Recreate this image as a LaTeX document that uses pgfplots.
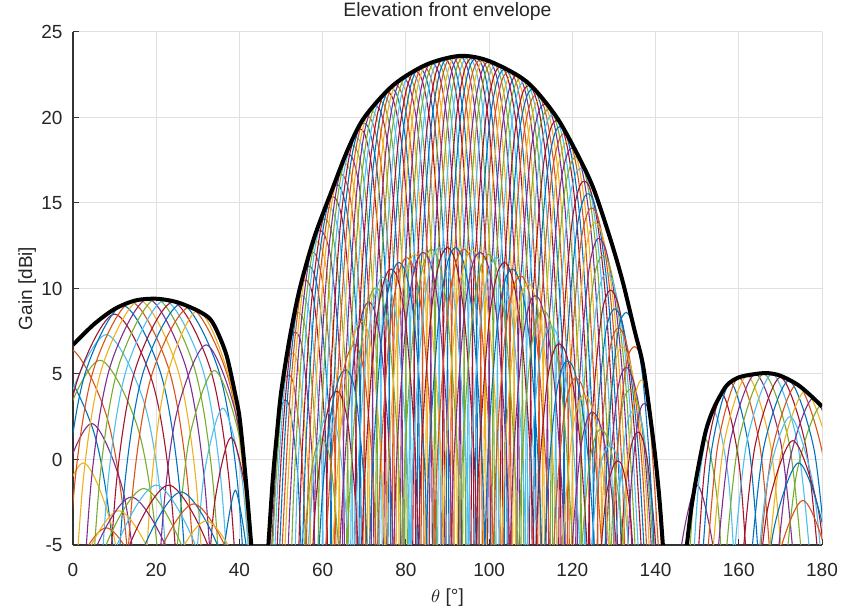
\documentclass[border=0pt]{standalone}
\usepackage{fontspec}
\setmainfont{Liberation Sans}
\usepackage{pgfplots}
\pgfplotsset{compat=1.18}
\definecolor{m1}{RGB}{0,114,189}
\definecolor{m2}{RGB}{217,83,25}
\definecolor{m3}{RGB}{237,177,32}
\definecolor{m4}{RGB}{126,47,142}
\definecolor{m5}{RGB}{119,172,48}
\definecolor{m6}{RGB}{77,190,238}
\definecolor{m7}{RGB}{162,20,47}
\begin{document}
\begin{tikzpicture}
\begin{axis}[
  scale only axis, width=374.5pt, height=256.5pt,
  xmin=0, xmax=180, ymin=-5, ymax=25,
  xtick={0,20,...,180}, ytick={-5,0,...,25},
  grid=major, major grid style={black!12, line width=0.5pt},
  axis x line*=bottom, axis y line*=left,
  axis line style={black!80, line width=0.6pt},
  tick align=inside, major tick length=3pt, tick style={black!80, line width=0.5pt},
  ticklabel style={font=\fontsize{9.5}{11}\selectfont, text=black!85},
  /pgf/number format/assume math mode=true,
  xticklabel style={yshift=-5.5pt},
  yticklabel style={xshift=-1.7pt},
  xlabel={$\theta$ [°]}, ylabel={Gain [dBi]},
  xlabel style={font=\fontsize{9.5}{11}\selectfont, text=black!85, at={(axis description cs:0.5,-0.103)}, anchor=center},
  ylabel style={font=\fontsize{9.5}{11}\selectfont, text=black!85, at={(axis description cs:-0.061,0.5)}, anchor=center},
  no markers,
  cycle list={{m1},{m2},{m3},{m4},{m5},{m6},{m7}},
  every axis plot/.append style={line width=0.55pt, smooth},
  clip=true,
]
% ---- main family (1 deg steps)
\addplot coordinates {(46,-10.9)(48,-1.2)(50,3)(52,3.1)(54,-0.9)(55,-6.6)};
\addplot coordinates {(45,-19.9)(47,-5.9)(49,1.5)(51,4.7)(53,4.4)(55,0.1)(56,-5.7)};
\addplot coordinates {(46,-13.9)(48,-2.1)(50,3.9)(52,6.1)(54,5.6)(56,1)(57,-4.9)(58,-30)};
\addplot coordinates {(47,-8.9)(49,0.6)(51,5.6)(53,7.4)(55,6.6)(57,1.8)(58,-4.1)(59,-30)};
\addplot coordinates {(46,-20.4)(48,-5.1)(50,3)(52,7)(54,8.6)(56,7.5)(58,2.6)(59,-3.5)(60,-30)};
\addplot coordinates {(47,-15.4)(49,-2.4)(51,4.7)(53,8.3)(55,9.6)(57,8.3)(59,3.2)(60,-2.9)(61,-30)};
\addplot coordinates {(48,-11.6)(50,0)(52,6.1)(54,9.5)(56,10.5)(58,9.1)(60,3.8)(61,-2.2)(62,-30)};
\addplot coordinates {(49,-8.9)(51,1.7)(53,7.4)(55,10.5)(57,11.3)(59,9.7)(61,4.5)(62,-1.5)(63,-30)};
\addplot coordinates {(50,-6.5)(52,3.1)(54,8.6)(56,11.4)(58,12.1)(60,10.3)(62,5.2)(63,-0.9)(64,-30)};
\addplot coordinates {(50,-13.2)(51,-4.8)(53,4.4)(55,9.6)(57,12.2)(59,12.7)(61,11)(63,5.8)(64,-0.2)(65,-30)};
\addplot coordinates {(51,-11.5)(52,-3.4)(54,5.6)(56,10.5)(58,13)(60,13.3)(62,11.7)(64,6.5)(65,0.4)(66,-30)};
\addplot coordinates {(52,-10.1)(53,-2.1)(55,6.6)(57,11.3)(59,13.6)(61,14)(63,12.3)(65,7.1)(66,1)(67,-30)};
\addplot coordinates {(53,-8.8)(54,-0.9)(56,7.5)(58,12.1)(60,14.2)(62,14.7)(64,13)(66,7.7)(67,1.5)(68,-30)};
\addplot coordinates {(54,-7.6)(55,0.1)(57,8.3)(59,12.7)(61,14.9)(63,15.3)(65,13.6)(67,8.2)(68,2)(69,-30)};
\addplot coordinates {(55,-6.6)(56,1)(58,9.1)(60,13.3)(62,15.6)(64,16)(66,14.2)(68,8.7)(69,2.4)(70,-30)};
\addplot coordinates {(56,-5.7)(57,1.8)(59,9.7)(61,14)(63,16.2)(65,16.6)(67,14.7)(69,9.1)(70,2.9)(71,-30)};
\addplot coordinates {(56,-30)(57,-4.9)(58,2.6)(60,10.3)(62,14.7)(64,16.9)(66,17.2)(68,15.2)(70,9.6)(71,3.2)(72,-30)};
\addplot coordinates {(57,-30)(58,-4.1)(59,3.2)(61,11)(63,15.3)(65,17.5)(67,17.7)(69,15.6)(71,9.9)(72,3.5)(73,-30)};
\addplot coordinates {(58,-30)(59,-3.5)(60,3.8)(62,11.7)(64,16)(66,18.1)(68,18.2)(70,16.1)(72,10.2)(73,3.8)(74,-30)};
\addplot coordinates {(59,-30)(60,-2.9)(61,4.5)(63,12.3)(65,16.6)(67,18.6)(69,18.6)(71,16.4)(73,10.5)(74,4.1)(75,-30)};
\addplot coordinates {(60,-30)(61,-2.2)(62,5.2)(64,13)(66,17.2)(68,19.1)(70,19.1)(72,16.7)(74,10.8)(75,4.4)(76,-30)};
\addplot coordinates {(61,-30)(62,-1.5)(63,5.8)(65,13.6)(67,17.7)(69,19.5)(71,19.4)(73,17)(75,11.1)(76,4.6)(77,-30)};
\addplot coordinates {(62,-30)(63,-0.9)(64,6.5)(66,14.2)(68,18.2)(70,20)(72,19.7)(74,17.3)(76,11.3)(77,4.8)(78,-30)};
\addplot coordinates {(63,-30)(64,-0.2)(65,7.1)(67,14.7)(69,18.6)(71,20.3)(73,20)(75,17.6)(77,11.5)(78,5)(79,-30)};
\addplot coordinates {(64,-30)(65,0.4)(66,7.7)(68,15.2)(70,19.1)(72,20.6)(74,20.3)(76,17.8)(78,11.7)(79,5.2)(80,-30)};
\addplot coordinates {(65,-30)(66,1)(67,8.2)(69,15.6)(71,19.4)(73,20.9)(75,20.6)(77,18)(79,11.9)(80,5.3)(81,-30)};
\addplot coordinates {(66,-30)(67,1.5)(68,8.7)(70,16.1)(72,19.7)(74,21.2)(76,20.8)(78,18.2)(80,12)(81,5.5)(82,-30)};
\addplot coordinates {(67,-30)(68,2)(69,9.1)(71,16.4)(73,20)(75,21.5)(77,21)(79,18.4)(81,12.2)(82,5.6)(83,-30)};
\addplot coordinates {(68,-30)(69,2.4)(70,9.6)(72,16.7)(74,20.3)(76,21.7)(78,21.2)(80,18.5)(82,12.3)(83,5.8)(84,-30)};
\addplot coordinates {(69,-30)(70,2.9)(71,9.9)(73,17)(75,20.6)(77,21.9)(79,21.4)(81,18.7)(83,12.5)(84,5.9)(85,-30)};
\addplot coordinates {(70,-30)(71,3.2)(72,10.2)(74,17.3)(76,20.8)(78,22.1)(80,21.5)(82,18.8)(84,12.6)(85,6)(86,-30)};
\addplot coordinates {(71,-30)(72,3.5)(73,10.5)(75,17.6)(77,21)(79,22.3)(81,21.7)(83,19)(85,12.7)(86,6.1)(87,-30)};
\addplot coordinates {(72,-30)(73,3.8)(74,10.8)(76,17.8)(78,21.2)(80,22.4)(82,21.8)(84,19.1)(86,12.8)(87,6.2)(88,-30)};
\addplot coordinates {(73,-30)(74,4.1)(75,11.1)(77,18)(79,21.4)(81,22.6)(83,22)(85,19.2)(87,12.9)(88,6.3)(89,-30)};
\addplot coordinates {(74,-30)(75,4.4)(76,11.3)(78,18.2)(80,21.5)(82,22.7)(84,22.1)(86,19.3)(88,13)(89,6.4)(90,-30)};
\addplot coordinates {(75,-30)(76,4.6)(77,11.5)(79,18.4)(81,21.7)(83,22.9)(85,22.2)(87,19.4)(89,13.1)(90,6.4)(91,-30)};
\addplot coordinates {(76,-30)(77,4.8)(78,11.7)(80,18.5)(82,21.8)(84,23)(86,22.3)(88,19.5)(90,13.1)(91,6.5)(92,-30)};
\addplot coordinates {(77,-30)(78,5)(79,11.9)(81,18.7)(83,22)(85,23.1)(87,22.4)(89,19.6)(91,13.2)(92,6.5)(93,-30)};
\addplot coordinates {(78,-30)(79,5.2)(80,12)(82,18.8)(84,22.1)(86,23.2)(88,22.5)(90,19.6)(92,13.2)(93,6.5)(94,-30)};
\addplot coordinates {(79,-30)(80,5.3)(81,12.2)(83,19)(85,22.2)(87,23.3)(89,22.6)(91,19.7)(93,13.2)(94,6.5)(95,-30)};
\addplot coordinates {(80,-30)(81,5.5)(82,12.3)(84,19.1)(86,22.3)(88,23.4)(90,22.6)(92,19.7)(94,13.2)(95,6.5)(96,-30)};
\addplot coordinates {(81,-30)(82,5.6)(83,12.5)(85,19.2)(87,22.4)(89,23.5)(91,22.7)(93,19.7)(95,13.2)(96,6.4)(97,-30)};
\addplot coordinates {(82,-30)(83,5.8)(84,12.6)(86,19.3)(88,22.5)(90,23.5)(92,22.7)(94,19.7)(96,13.1)(97,6.4)(98,-30)};
\addplot coordinates {(83,-30)(84,5.9)(85,12.7)(87,19.4)(89,22.6)(91,23.6)(93,22.7)(95,19.7)(97,13.1)(98,6.3)(99,-30)};
\addplot coordinates {(84,-30)(85,6)(86,12.8)(88,19.5)(90,22.6)(92,23.6)(94,22.7)(96,19.6)(98,13)(99,6.3)(100,-30)};
\addplot coordinates {(85,-30)(86,6.1)(87,12.9)(89,19.6)(91,22.7)(93,23.6)(95,22.7)(97,19.6)(99,13)(100,6.2)(101,-30)};
\addplot coordinates {(86,-30)(87,6.2)(88,13)(90,19.6)(92,22.7)(94,23.6)(96,22.6)(98,19.5)(100,12.9)(101,6.1)(102,-30)};
\addplot coordinates {(87,-30)(88,6.3)(89,13.1)(91,19.7)(93,22.7)(95,23.6)(97,22.6)(99,19.5)(101,12.8)(102,6)(103,-30)};
\addplot coordinates {(88,-30)(89,6.4)(90,13.1)(92,19.7)(94,22.7)(96,23.5)(98,22.5)(100,19.4)(102,12.7)(103,5.9)(104,-30)};
\addplot coordinates {(89,-30)(90,6.4)(91,13.2)(93,19.7)(95,22.7)(97,23.5)(99,22.5)(101,19.3)(103,12.6)(104,5.7)(105,-30)};
\addplot coordinates {(90,-30)(91,6.5)(92,13.2)(94,19.7)(96,22.6)(98,23.4)(100,22.4)(102,19.2)(104,12.4)(105,5.6)(106,-30)};
\addplot coordinates {(91,-30)(92,6.5)(93,13.2)(95,19.7)(97,22.6)(99,23.4)(101,22.3)(103,19.1)(105,12.3)(106,5.5)(107,-30)};
\addplot coordinates {(92,-30)(93,6.5)(94,13.2)(96,19.6)(98,22.5)(100,23.3)(102,22.2)(104,18.9)(106,12.2)(107,5.4)(108,-30)};
\addplot coordinates {(93,-30)(94,6.5)(95,13.2)(97,19.6)(99,22.5)(101,23.2)(103,22.1)(105,18.8)(107,12.1)(108,5.2)(109,-30)};
\addplot coordinates {(94,-30)(95,6.5)(96,13.1)(98,19.5)(100,22.4)(102,23.1)(104,21.9)(106,18.7)(108,11.9)(109,5)(110,-30)};
\addplot coordinates {(95,-30)(96,6.4)(97,13.1)(99,19.5)(101,22.3)(103,23)(105,21.8)(107,18.6)(109,11.7)(110,4.7)(111,-30)};
\addplot coordinates {(96,-30)(97,6.4)(98,13)(100,19.4)(102,22.2)(104,22.8)(106,21.7)(108,18.4)(110,11.4)(111,4.5)(112,-30)};
\addplot coordinates {(97,-30)(98,6.3)(99,13)(101,19.3)(103,22.1)(105,22.7)(107,21.6)(109,18.2)(111,11.2)(112,4.2)(113,-30)};
\addplot coordinates {(98,-30)(99,6.3)(100,12.9)(102,19.2)(104,21.9)(106,22.6)(108,21.4)(110,17.9)(112,10.9)(113,3.9)(114,-30)};
\addplot coordinates {(99,-30)(100,6.2)(101,12.8)(103,19.1)(105,21.8)(107,22.5)(109,21.2)(111,17.7)(113,10.6)(114,3.6)(115,-30)};
\addplot coordinates {(100,-30)(101,6.1)(102,12.7)(104,18.9)(106,21.7)(108,22.3)(110,20.9)(112,17.4)(114,10.3)(115,3.3)(116,-30)};
\addplot coordinates {(101,-30)(102,6)(103,12.6)(105,18.8)(107,21.6)(109,22.1)(111,20.7)(113,17.1)(115,10)(116,3)(117,-30)};
\addplot coordinates {(102,-30)(103,5.9)(104,12.4)(106,18.7)(108,21.4)(110,21.8)(112,20.4)(114,16.8)(116,9.7)(117,2.6)(118,-30)};
\addplot coordinates {(103,-30)(104,5.7)(105,12.3)(107,18.6)(109,21.2)(111,21.6)(113,20.1)(115,16.5)(117,9.3)(118,2.2)(119,-30)};
\addplot coordinates {(104,-30)(105,5.6)(106,12.2)(108,18.4)(110,20.9)(112,21.3)(114,19.8)(116,16.2)(118,8.9)(119,1.8)(120,-30)};
\addplot coordinates {(105,-30)(106,5.5)(107,12.1)(109,18.2)(111,20.7)(113,21)(115,19.5)(117,15.8)(119,8.5)(120,1.3)(121,-30)};
\addplot coordinates {(106,-30)(107,5.4)(108,11.9)(110,17.9)(112,20.4)(114,20.7)(116,19.2)(118,15.4)(120,8)(121,0.9)(122,-30)};
\addplot coordinates {(107,-30)(108,5.2)(109,11.7)(111,17.7)(113,20.1)(115,20.4)(117,18.8)(119,15)(121,7.6)(122,0.4)(123,-30)};
\addplot coordinates {(108,-30)(109,5)(110,11.4)(112,17.4)(114,19.8)(116,20.1)(118,18.4)(120,14.5)(122,7.1)(123,-0.1)(124,-30)};
\addplot coordinates {(109,-30)(110,4.7)(111,11.2)(113,17.1)(115,19.5)(117,19.7)(119,18)(121,14.1)(123,6.6)(124,-0.6)(125,-30)};
\addplot coordinates {(110,-30)(111,4.5)(112,10.9)(114,16.8)(116,19.2)(118,19.3)(120,17.5)(122,13.6)(124,6.1)(125,-1.2)(126,-30)};
\addplot coordinates {(111,-30)(112,4.2)(113,10.6)(115,16.5)(117,18.8)(119,18.9)(121,17.1)(123,13.1)(125,5.5)(126,-1.8)(127,-30)};
\addplot coordinates {(112,-30)(113,3.9)(114,10.3)(116,16.2)(118,18.4)(120,18.4)(122,16.6)(124,12.6)(126,4.9)(127,-2.6)(128,-30)};
\addplot coordinates {(113,-30)(114,3.6)(115,10)(117,15.8)(119,18)(121,18)(123,16.1)(125,12)(127,4.2)(128,-3.3)(129,-30)};
\addplot coordinates {(114,-30)(115,3.3)(116,9.7)(118,15.4)(120,17.5)(122,17.5)(124,15.6)(126,11.4)(128,3.4)(129,-4.1)(130,-30)};
\addplot coordinates {(115,-30)(116,2.8)(117,9.1)(119,14.7)(121,16.8)(123,16.8)(125,14.8)(127,10.4)(129,2.4)(130,-5.2)};
\addplot coordinates {(116,-30)(117,2.1)(118,8.4)(120,14)(122,16.1)(124,16)(126,13.9)(128,9.4)(130,1.3)(131,-6.3)};
\addplot coordinates {(117,-30)(118,1.5)(119,7.7)(121,13.3)(123,15.4)(125,15.2)(127,12.9)(129,8.4)(131,0.2)(132,-7.4)};
\addplot coordinates {(118,-30)(119,0.8)(120,7)(122,12.6)(124,14.6)(126,14.3)(128,11.9)(130,7.3)(132,-0.9)(133,-8.6)};
\addplot coordinates {(119,-30)(120,0.1)(121,6.3)(123,11.9)(125,13.8)(127,13.3)(129,10.9)(131,6.2)(133,-2.2)(134,-9.9)};
\addplot coordinates {(120,-30)(121,-0.7)(122,5.6)(124,11.1)(126,12.9)(128,12.3)(130,9.8)(132,5.1)(134,-3.4)(135,-11.1)};
\addplot coordinates {(121,-30)(122,-1.4)(123,4.9)(125,10.3)(127,11.9)(129,11.3)(131,8.7)(133,3.9)(135,-4.7)(136,-12.4)};
\addplot coordinates {(122,-30)(123,-2.1)(124,4.1)(126,9.4)(128,10.9)(130,10.2)(132,7.6)(134,2.6)(136,-5.9)};
\addplot coordinates {(123,-30)(124,-2.9)(125,3.3)(127,8.4)(129,9.9)(131,9.1)(133,6.4)(135,1.4)(137,-7.2)};
\addplot coordinates {(124,-30)(125,-3.7)(126,2.4)(128,7.4)(130,8.8)(132,8)(134,5.1)(136,0.1)(138,-8.9)};
\addplot coordinates {(125,-30)(126,-4.6)(127,1.4)(129,6.4)(131,7.7)(133,6.8)(135,3.9)(137,-1.2)(139,-11.2)};
\addplot coordinates {(126,-30)(127,-5.6)(128,0.4)(130,5.3)(132,6.6)(134,5.5)(136,2.6)(138,-2.9)(140,-13.4)};
\addplot coordinates {(128,-6.6)(129,-0.7)(131,4.2)(133,5.4)(135,4.3)(137,1.4)(139,-5.2)(141,-16.2)};
\addplot coordinates {(129,-7.6)(130,-1.7)(132,3.1)(134,4.1)(136,3)(138,-0.4)(140,-7.4)};
\addplot coordinates {(130,-8.7)(131,-2.8)(133,1.9)(135,2.9)(137,1.8)(139,-2.7)(141,-10.2)};
\addplot coordinates {(131,-9.8)(132,-3.9)(134,0.6)(136,1.6)(138,0)(140,-4.9)(142,-13.4)};
\addplot coordinates {(127,-30)(128,-3.3)(129,2.6)(131,7.5)(133,8.6)(135,7.5)(137,4.6)(139,-1.9)(141,-12.9)};
\addplot coordinates {(129,-30)(130,-4.9)(131,1)(133,5.6)(135,6.6)(137,5.5)(139,1.1)(141,-6.4)};
\addplot coordinates {(132,-6.6)(133,-0.9)(135,3.6)(137,4.6)(139,2)(141,-3.4)(143,-12.9)};
\addplot coordinates {(133,-7.6)(134,-1.9)(136,2.6)(138,3.1)(140,0)(142,-6.4)};
% ---- inner family
\addplot coordinates {(54,-12.9)(56,-3.7)(58,0.3)(60,1.2)(62,-0.3)(64,-5.6)};
\addplot coordinates {(56,-6.7)(58,-0.6)(60,2.1)(62,2.7)(64,0.9)(66,-4.3)(67,-10.3)};
\addplot coordinates {(56,-13.2)(58,-3.6)(60,1.2)(62,3.6)(64,3.9)(66,2.2)(68,-2.8)(69,-8.8)};
\addplot coordinates {(58,-10.1)(60,-1.8)(62,2.7)(64,4.8)(66,5.2)(68,3.7)(70,-1.5)(71,-7.6)};
\addplot coordinates {(60,-8.3)(62,-0.3)(64,3.9)(66,6.1)(68,6.7)(70,5)(72,-0.5)(73,-6.8)};
\addplot coordinates {(62,-6.8)(64,0.9)(66,5.2)(68,7.6)(70,8)(72,6)(74,0.2)(75,-6.2)};
\addplot coordinates {(63,-12.9)(64,-5.6)(66,2.2)(68,6.7)(70,8.9)(72,9)(74,6.7)(76,0.7)(77,-5.8)};
\addplot coordinates {(65,-11.7)(66,-4.3)(68,3.7)(70,8)(72,9.9)(74,9.7)(76,7.2)(78,1.1)(79,-5.5)};
\addplot coordinates {(67,-10.3)(68,-2.8)(70,5)(72,9)(74,10.6)(76,10.2)(78,7.6)(80,1.4)(81,-5.2)};
\addplot coordinates {(69,-8.8)(70,-1.5)(72,6)(74,9.7)(76,11.1)(78,10.6)(80,7.9)(82,1.6)(83,-5.1)};
\addplot coordinates {(71,-7.6)(72,-0.5)(74,6.7)(76,10.2)(78,11.5)(80,10.9)(82,8.1)(84,1.7)(85,-4.9)(86,-30)};
\addplot coordinates {(73,-6.8)(74,0.2)(76,7.2)(78,10.6)(80,11.8)(82,11.1)(84,8.2)(86,1.9)(87,-4.8)(88,-30)};
\addplot coordinates {(75,-6.2)(76,0.7)(78,7.6)(80,10.9)(82,12)(84,11.2)(86,8.4)(88,2)(89,-4.7)(90,-30)};
\addplot coordinates {(77,-5.8)(78,1.1)(80,7.9)(82,11.1)(84,12.1)(86,11.4)(88,8.5)(90,2)(91,-4.7)(92,-30)};
\addplot coordinates {(79,-5.5)(80,1.4)(82,8.1)(84,11.2)(86,12.3)(88,11.5)(90,8.5)(92,2)(93,-4.8)(94,-30)};
\addplot coordinates {(81,-5.2)(82,1.6)(84,8.2)(86,11.4)(88,12.4)(90,11.5)(92,8.5)(94,1.9)(95,-4.8)(96,-30)};
\addplot coordinates {(83,-5.1)(84,1.7)(86,8.4)(88,11.5)(90,12.4)(92,11.5)(94,8.4)(96,1.9)(97,-4.9)(98,-30)};
\addplot coordinates {(84,-30)(85,-4.9)(86,1.9)(88,8.5)(90,11.5)(92,12.4)(94,11.4)(96,8.4)(98,1.7)(99,-5.1)};
\addplot coordinates {(86,-30)(87,-4.8)(88,2)(90,8.5)(92,11.5)(94,12.3)(96,11.4)(98,8.2)(100,1.6)(101,-5.3)};
\addplot coordinates {(88,-30)(89,-4.7)(90,2)(92,8.5)(94,11.4)(96,12.3)(98,11.2)(100,8.1)(102,1.4)(103,-5.5)};
\addplot coordinates {(90,-30)(91,-4.7)(92,2)(94,8.4)(96,11.4)(98,12.1)(100,11.1)(102,7.9)(104,1.1)(105,-5.8)};
\addplot coordinates {(92,-30)(93,-4.8)(94,1.9)(96,8.4)(98,11.2)(100,12)(102,10.9)(104,7.6)(106,0.7)(107,-6.2)};
\addplot coordinates {(94,-30)(95,-4.8)(96,1.9)(98,8.2)(100,11.1)(102,11.8)(104,10.6)(106,7.2)(108,0.3)(109,-6.6)};
\addplot coordinates {(96,-30)(97,-4.9)(98,1.7)(100,8.1)(102,10.9)(104,11.5)(106,10.2)(108,6.8)(110,-0.2)(111,-7.3)};
\addplot coordinates {(99,-5.1)(100,1.6)(102,7.9)(104,10.6)(106,11.1)(108,9.8)(110,6.3)(112,-1)(113,-8.2)};
\addplot coordinates {(101,-5.3)(102,1.4)(104,7.6)(106,10.2)(108,10.7)(110,9.3)(112,5.5)(114,-1.9)(115,-9.1)};
\addplot coordinates {(103,-5.5)(104,1.1)(106,7.2)(108,9.8)(110,10.2)(112,8.5)(114,4.6)(116,-2.9)(117,-10.1)};
\addplot coordinates {(105,-5.8)(106,0.7)(108,6.8)(110,9.3)(112,9.4)(114,7.6)(116,3.6)(118,-3.9)(119,-11.1)};
\addplot coordinates {(107,-6.2)(108,0.3)(110,6.3)(112,8.5)(114,8.5)(116,6.6)(118,2.6)(120,-4.9)(121,-12.1)};
\addplot coordinates {(109,-6.6)(110,-0.2)(112,5.5)(114,7.6)(116,7.5)(118,5.6)(120,1.6)(122,-5.9)};
\addplot coordinates {(111,-7.3)(112,-1)(114,4.6)(116,6.6)(118,6.5)(120,4.6)(122,0.6)(124,-6.9)};
\addplot coordinates {(113,-8.2)(114,-1.9)(116,3.6)(118,5.6)(120,5.5)(122,3.6)(124,-0.4)(126,-7.9)};
\addplot coordinates {(115,-9.1)(116,-2.9)(118,2.6)(120,4.6)(122,4.5)(124,2.6)(126,-1.4)(128,-8.9)};
\addplot coordinates {(117,-10.1)(118,-3.9)(120,1.6)(122,3.6)(124,3.5)(126,1.6)(128,-2.4)(130,-9.8)};
\addplot coordinates {(119,-11.1)(120,-4.9)(122,0.6)(124,2.6)(126,2.5)(128,0.6)(130,-3.3)(132,-10.8)};
\addplot coordinates {(122,-5.9)(124,-0.4)(126,1.6)(128,1.5)(130,-0.3)(132,-4.3)(134,-12.9)};
\addplot coordinates {(124,-6.9)(126,-1.4)(128,0.6)(130,0.6)(132,-1.3)(134,-6.4)};
\addplot coordinates {(126,-7.9)(128,-2.4)(130,-0.3)(132,-0.4)(134,-3.4)(136,-10.9)};
% ---- left lobe
\addplot coordinates {(-20.56,-15.8)(-17.5,-4.9)(-13,1.6)(-4,5.5)(5,1.6)(9.5,-4.9)(12.56,-15.8)};
\addplot coordinates {(-17.56,-14.8)(-14.5,-3.9)(-10,2.6)(-1,6.5)(8,2.6)(12.5,-3.9)(15.56,-14.8)};
\addplot coordinates {(-8,-10.6)(-4.5,-4.1)(2.5,-0.2)(9.5,-4.1)(13,-10.6)};
\addplot coordinates {(-6.75,-8.3)(-3,-1.8)(4.5,2.1)(12,-1.8)(15.75,-8.3)};
\addplot coordinates {(-10.06,-15.5)(-7,-4.6)(-2.5,1.9)(6.5,5.8)(15.5,1.9)(20,-4.6)(23.06,-15.5)};
\addplot coordinates {(-8.56,-14)(-5.5,-3.1)(-1,3.4)(8,7.3)(17,3.4)(21.5,-3.1)(24.56,-14)};
\addplot coordinates {(-6.56,-12.8)(-3.5,-1.9)(1,4.6)(10,8.5)(19,4.6)(23.5,-1.9)(26.56,-12.8)};
\addplot coordinates {(-4.56,-12.3)(-1.5,-1.4)(3,5.1)(12,9)(21,5.1)(25.5,-1.4)(28.56,-12.3)};
\addplot coordinates {(-2.56,-12.1)(0.5,-1.2)(5,5.3)(14,9.2)(23,5.3)(27.5,-1.2)(30.56,-12.1)};
\addplot coordinates {(-0.56,-12)(2.5,-1.1)(7,5.4)(16,9.3)(25,5.4)(29.5,-1.1)(32.56,-12)};
\addplot coordinates {(1.44,-11.9)(4.5,-1)(9,5.5)(18,9.4)(27,5.5)(31.5,-1)(34.56,-11.9)};
\addplot coordinates {(3.44,-11.9)(6.5,-1)(11,5.5)(20,9.4)(29,5.5)(33.5,-1)(36.56,-11.9)};
\addplot coordinates {(5.44,-12)(8.5,-1.1)(13,5.4)(22,9.3)(31,5.4)(35.5,-1.1)(38.56,-12)};
\addplot coordinates {(7.44,-12.1)(10.5,-1.2)(15,5.3)(24,9.2)(33,5.3)(37.5,-1.2)(40.56,-12.1)};
\addplot coordinates {(9.44,-12.2)(12.5,-1.3)(17,5.2)(26,9.1)(35,5.2)(39.5,-1.3)(42.56,-12.2)};
\addplot coordinates {(11.44,-12.4)(14.5,-1.5)(19,5)(28,8.9)(37,5)(41.5,-1.5)(44.56,-12.4)};
\addplot coordinates {(16.2,-12.6)(18.75,-1.7)(22.5,4.8)(30,8.7)(37.5,4.8)(41.25,-1.7)(43.8,-12.6)};
\addplot coordinates {(19.12,-14.6)(21.5,-3.7)(25,2.8)(32,6.7)(39,2.8)(42.5,-3.7)(44.88,-14.6)};
\addplot coordinates {(25,-5.2)(28,1.3)(34,5.2)(40,1.3)(43,-5.2)};
\addplot coordinates {(29.25,-7.4)(31.5,-0.9)(36,3)(40.5,-0.9)(42.75,-7.4)};
\addplot coordinates {(32,-9.1)(34,-2.6)(38,1.3)(42,-2.6)(44,-9.1)};
\addplot coordinates {(36,-5.7)(39,-1.8)(42,-5.7)};
% ---- small left dome
\addplot coordinates {(-7,-14.4)(-2,-7.9)(8,-4)(18,-7.9)(23,-14.4)};
\addplot coordinates {(-4,-13.4)(1,-6.9)(11,-3)(21,-6.9)(26,-13.4)};
\addplot coordinates {(-1,-12.6)(4,-6.1)(14,-2.2)(24,-6.1)(29,-12.6)};
\addplot coordinates {(2,-12.1)(7,-5.6)(17,-1.7)(27,-5.6)(32,-12.1)};
\addplot coordinates {(5,-11.9)(10,-5.4)(20,-1.5)(30,-5.4)(35,-11.9)};
\addplot coordinates {(8,-11.9)(13,-5.4)(23,-1.5)(33,-5.4)(38,-11.9)};
\addplot coordinates {(11,-12.3)(16,-5.8)(26,-1.9)(36,-5.8)(41,-12.3)};
\addplot coordinates {(14,-13)(19,-6.5)(29,-2.6)(39,-6.5)(44,-13)};
\addplot coordinates {(17,-14)(22,-7.5)(32,-3.6)(42,-7.5)(47,-14)};
% ---- right lobe
\addplot coordinates {(144,-11.9)(146,-5.4)(150,-1.5)(154,-5.4)(156,-11.9)};
\addplot coordinates {(147.5,-9.2)(149,-2.7)(152,1.2)(155,-2.7)(156.5,-9.2)};
\addplot coordinates {(148.75,-7.6)(150.5,-1.1)(154,2.8)(157.5,-1.1)(159.25,-7.6)};
\addplot coordinates {(150,-6.6)(152,-0.1)(156,3.8)(160,-0.1)(162,-6.6)};
\addplot coordinates {(151.25,-5.9)(153.5,0.6)(158,4.5)(162.5,0.6)(164.75,-5.9)};
\addplot coordinates {(152.5,-5.6)(155,0.9)(160,4.8)(165,0.9)(167.5,-5.6)};
\addplot coordinates {(153.75,-5.5)(156.5,1)(162,4.9)(167.5,1)(170.25,-5.5)};
\addplot coordinates {(155,-5.4)(158,1.1)(164,5)(170,1.1)(173,-5.4)};
\addplot coordinates {(157,-5.4)(160,1.1)(166,5)(172,1.1)(175,-5.4)};
\addplot coordinates {(159,-5.4)(162,1.1)(168,5)(174,1.1)(177,-5.4)};
\addplot coordinates {(161,-5.6)(164,0.9)(170,4.8)(176,0.9)(179,-5.6)};
\addplot coordinates {(163,-5.8)(166,0.7)(172,4.6)(178,0.7)(181,-5.8)};
\addplot coordinates {(165,-6)(168,0.5)(174,4.4)(180,0.5)(183,-6)};
\addplot coordinates {(167,-6.4)(170,0.1)(176,4)(182,0.1)(185,-6.4)};
\addplot coordinates {(169,-6.8)(172,-0.3)(178,3.6)(184,-0.3)(187,-6.8)};
\addplot coordinates {(171,-7.2)(174,-0.7)(180,3.2)(186,-0.7)(189,-7.2)};
\addplot coordinates {(164.05,-7.9)(166.8,-1.4)(172.3,2.5)(177.8,-1.4)(180.55,-7.9)};
\addplot coordinates {(164,-9.3)(167,-2.8)(173,1.1)(179,-2.8)(182,-9.3)};
\addplot coordinates {(165.4,-10.6)(168.4,-4.1)(174.4,-0.2)(180.4,-4.1)(183.4,-10.6)};
\addplot coordinates {(165.65,-12.8)(168.9,-6.3)(175.4,-2.4)(181.9,-6.3)(185.15,-12.8)};
% ---- envelopes
\addplot[black, line width=2pt, smooth] coordinates {(0,6.7)(5,7.9)(10,8.8)(15,9.3)(20,9.4)(25,9.2)(30,8.7)(33,8.2)(35,7.3)(37,6.0)(39,3.8)(40,2.5)(41,0.2)(42,-2.5)(43,-5.5)};
\addplot[black, line width=2pt, smooth] coordinates {(46.8,-5.6)(48,-1.2)(49,1.5)(50,3.9)(52,7.0)(54.5,10)(58,13)(62,15.6)(66,18.1)(70,20)(77,21.9)(85,23.1)(93,23.6)(100,23.3)(109,22.1)(116,20.1)(121,17.95)(125,15.9)(129,13)(132,10.5)(135,7.5)(137,5.5)(139,2)(140,0)(141,-2.5)(141.9,-5.5)};
\addplot[black, line width=2pt, smooth] coordinates {(147.3,-5.5)(148.5,-3)(150,-0.8)(152,1.6)(154,3.0)(157,4.3)(160,4.8)(164,5.0)(167,5.05)(170,4.9)(174,4.4)(177,3.8)(180,3.1)};
\coordinate (bl) at (rel axis cs:0,0);
\coordinate (tr) at (rel axis cs:1,1);
\coordinate (tc) at (rel axis cs:0.5,1);
\end{axis}
\node[font=\fontsize{9.7}{11}\selectfont, text=black!85, anchor=base, yshift=7.5pt, inner sep=0pt] at (tc) {Elevation front envelope};
\pgfresetboundingbox
\path ([shift={(-36.5pt,-34.5pt)}]bl) rectangle ([shift={(9.5pt,16pt)}]tr);
\end{tikzpicture}
\end{document}
